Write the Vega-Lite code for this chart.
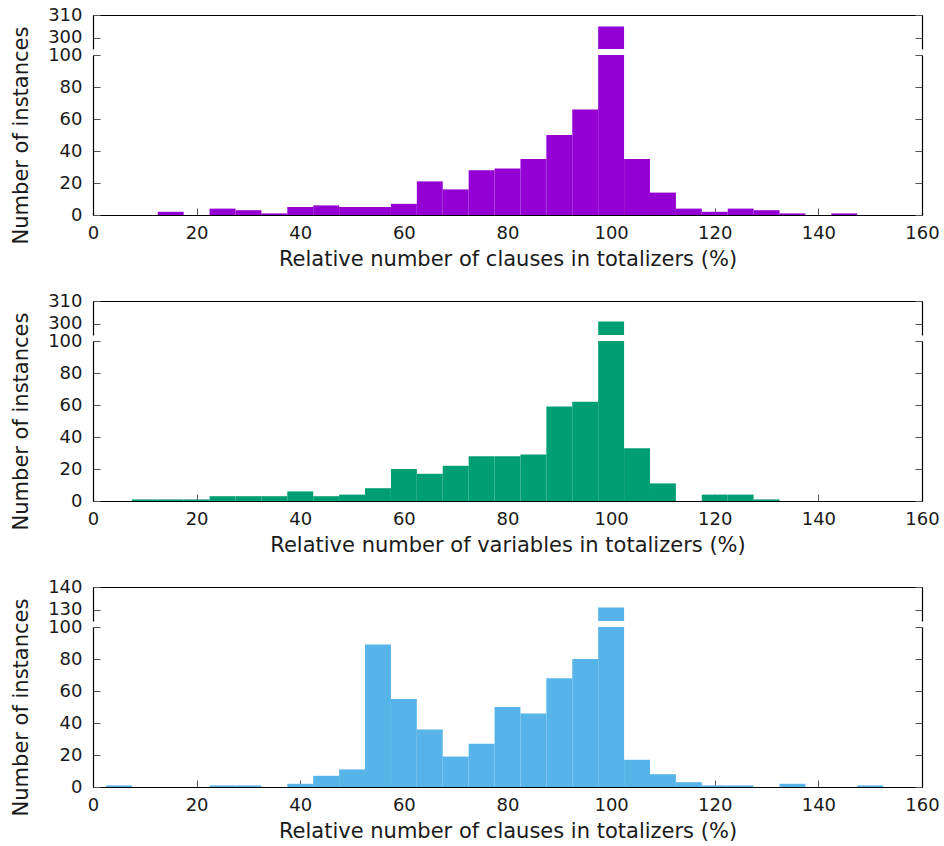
{
  "$schema": "https://vega.github.io/schema/vega-lite/v6.json",
  "padding": {"left": 10, "top": 6, "right": 5, "bottom": 5},
  "background": "white",
  "datasets": {
    "clauses_a": [
      {"from": 12.5, "to": 17.5, "count": 2},
      {"from": 22.5, "to": 27.5, "count": 4},
      {"from": 27.5, "to": 32.5, "count": 3},
      {"from": 32.5, "to": 37.5, "count": 1},
      {"from": 37.5, "to": 42.5, "count": 5},
      {"from": 42.5, "to": 47.5, "count": 6},
      {"from": 47.5, "to": 52.5, "count": 5},
      {"from": 52.5, "to": 57.5, "count": 5},
      {"from": 57.5, "to": 62.5, "count": 7},
      {"from": 62.5, "to": 67.5, "count": 21},
      {"from": 67.5, "to": 72.5, "count": 16},
      {"from": 72.5, "to": 77.5, "count": 28},
      {"from": 77.5, "to": 82.5, "count": 29},
      {"from": 82.5, "to": 87.5, "count": 35},
      {"from": 87.5, "to": 92.5, "count": 50},
      {"from": 92.5, "to": 97.5, "count": 66},
      {"from": 97.5, "to": 102.5, "count": 305},
      {"from": 102.5, "to": 107.5, "count": 35},
      {"from": 107.5, "to": 112.5, "count": 14},
      {"from": 112.5, "to": 117.5, "count": 4},
      {"from": 117.5, "to": 122.5, "count": 2},
      {"from": 122.5, "to": 127.5, "count": 4},
      {"from": 127.5, "to": 132.5, "count": 3},
      {"from": 132.5, "to": 137.5, "count": 1},
      {"from": 142.5, "to": 147.5, "count": 1}
    ],
    "variables": [
      {"from": 7.5, "to": 12.5, "count": 1},
      {"from": 12.5, "to": 17.5, "count": 1},
      {"from": 17.5, "to": 22.5, "count": 1},
      {"from": 22.5, "to": 27.5, "count": 3},
      {"from": 27.5, "to": 32.5, "count": 3},
      {"from": 32.5, "to": 37.5, "count": 3},
      {"from": 37.5, "to": 42.5, "count": 6},
      {"from": 42.5, "to": 47.5, "count": 3},
      {"from": 47.5, "to": 52.5, "count": 4},
      {"from": 52.5, "to": 57.5, "count": 8},
      {"from": 57.5, "to": 62.5, "count": 20},
      {"from": 62.5, "to": 67.5, "count": 17},
      {"from": 67.5, "to": 72.5, "count": 22},
      {"from": 72.5, "to": 77.5, "count": 28},
      {"from": 77.5, "to": 82.5, "count": 28},
      {"from": 82.5, "to": 87.5, "count": 29},
      {"from": 87.5, "to": 92.5, "count": 59},
      {"from": 92.5, "to": 97.5, "count": 62},
      {"from": 97.5, "to": 102.5, "count": 301},
      {"from": 102.5, "to": 107.5, "count": 33},
      {"from": 107.5, "to": 112.5, "count": 11},
      {"from": 117.5, "to": 122.5, "count": 4},
      {"from": 122.5, "to": 127.5, "count": 4},
      {"from": 127.5, "to": 132.5, "count": 1}
    ],
    "clauses_b": [
      {"from": 2.5, "to": 7.5, "count": 1},
      {"from": 22.5, "to": 27.5, "count": 1},
      {"from": 27.5, "to": 32.5, "count": 1},
      {"from": 37.5, "to": 42.5, "count": 2},
      {"from": 42.5, "to": 47.5, "count": 7},
      {"from": 47.5, "to": 52.5, "count": 11},
      {"from": 52.5, "to": 57.5, "count": 89},
      {"from": 57.5, "to": 62.5, "count": 55},
      {"from": 62.5, "to": 67.5, "count": 36},
      {"from": 67.5, "to": 72.5, "count": 19},
      {"from": 72.5, "to": 77.5, "count": 27},
      {"from": 77.5, "to": 82.5, "count": 50},
      {"from": 82.5, "to": 87.5, "count": 46},
      {"from": 87.5, "to": 92.5, "count": 68},
      {"from": 92.5, "to": 97.5, "count": 80},
      {"from": 97.5, "to": 102.5, "count": 131},
      {"from": 102.5, "to": 107.5, "count": 17},
      {"from": 107.5, "to": 112.5, "count": 8},
      {"from": 112.5, "to": 117.5, "count": 3},
      {"from": 117.5, "to": 122.5, "count": 1},
      {"from": 122.5, "to": 127.5, "count": 1},
      {"from": 132.5, "to": 137.5, "count": 2},
      {"from": 147.5, "to": 152.5, "count": 1}
    ]
  },
  "vconcat": [
    {
      "vconcat": [
        {
          "width": 829, "height": 34,
          "data": {"name": "clauses_a"},
          "layer": [
            {
              "mark": {"type": "bar", "color": "#9400d3", "clip": true},
              "encoding": {
                "x": {"field": "from", "type": "quantitative", "scale": {"domain": [0, 160], "nice": false}, "axis": {"orient": "top", "labels": false, "ticks": false, "title": null, "domain": true}},
                "x2": {"field": "to"},
                "y": {"field": "count", "type": "quantitative", "scale": {"domain": [295.1, 310], "nice": false, "zero": false}, "axis": {"orient": "left", "values": [300, 310], "title": null}},
                "y2": {"datum": 0}
              }
            },
            {
              "mark": {"type": "bar", "opacity": 0, "clip": true},
              "encoding": {
                "x": {"field": "from", "type": "quantitative", "axis": null},
                "x2": {"field": "to"},
                "y": {"field": "count", "type": "quantitative", "axis": {"orient": "right", "values": [300, 310], "labels": false, "title": null}},
                "y2": {"datum": 0}
              }
            }
          ],
          "resolve": {"axis": {"y": "independent", "x": "independent"}}
        },
        {
          "width": 829, "height": 160,
          "data": {"name": "clauses_a"},
          "layer": [
            {
              "mark": {"type": "bar", "color": "#9400d3", "clip": true},
              "encoding": {
                "x": {"field": "from", "type": "quantitative", "scale": {"domain": [0, 160], "nice": false}, "axis": {"orient": "bottom", "values": [0, 20, 40, 60, 80, 100, 120, 140, 160], "title": "Relative number of clauses in totalizers (%)"}},
                "x2": {"field": "to"},
                "y": {"field": "count", "type": "quantitative", "scale": {"domain": [0, 100], "nice": false}, "axis": {"orient": "left", "values": [0, 20, 40, 60, 80, 100], "title": "Number of instances"}},
                "y2": {"datum": 0}
              }
            },
            {
              "mark": {"type": "bar", "opacity": 0, "clip": true},
              "encoding": {
                "x": {"field": "from", "type": "quantitative", "axis": null},
                "x2": {"field": "to"},
                "y": {"field": "count", "type": "quantitative", "axis": {"orient": "right", "values": [0, 20, 40, 60, 80, 100], "labels": false, "title": null}},
                "y2": {"datum": 0}
              }
            }
          ],
          "resolve": {"axis": {"y": "independent", "x": "independent"}}
        }
      ],
      "spacing": 6,
      "bounds": "flush"
    },
    {
      "vconcat": [
        {
          "width": 829, "height": 34,
          "data": {"name": "variables"},
          "layer": [
            {
              "mark": {"type": "bar", "color": "#009e73", "clip": true},
              "encoding": {
                "x": {"field": "from", "type": "quantitative", "scale": {"domain": [0, 160], "nice": false}, "axis": {"orient": "top", "labels": false, "ticks": false, "title": null, "domain": true}},
                "x2": {"field": "to"},
                "y": {"field": "count", "type": "quantitative", "scale": {"domain": [295.1, 310], "nice": false, "zero": false}, "axis": {"orient": "left", "values": [300, 310], "title": null}},
                "y2": {"datum": 0}
              }
            },
            {
              "mark": {"type": "bar", "opacity": 0, "clip": true},
              "encoding": {
                "x": {"field": "from", "type": "quantitative", "axis": null},
                "x2": {"field": "to"},
                "y": {"field": "count", "type": "quantitative", "axis": {"orient": "right", "values": [300, 310], "labels": false, "title": null}},
                "y2": {"datum": 0}
              }
            }
          ],
          "resolve": {"axis": {"y": "independent", "x": "independent"}}
        },
        {
          "width": 829, "height": 160,
          "data": {"name": "variables"},
          "layer": [
            {
              "mark": {"type": "bar", "color": "#009e73", "clip": true},
              "encoding": {
                "x": {"field": "from", "type": "quantitative", "scale": {"domain": [0, 160], "nice": false}, "axis": {"orient": "bottom", "values": [0, 20, 40, 60, 80, 100, 120, 140, 160], "title": "Relative number of variables in totalizers (%)"}},
                "x2": {"field": "to"},
                "y": {"field": "count", "type": "quantitative", "scale": {"domain": [0, 100], "nice": false}, "axis": {"orient": "left", "values": [0, 20, 40, 60, 80, 100], "title": "Number of instances"}},
                "y2": {"datum": 0}
              }
            },
            {
              "mark": {"type": "bar", "opacity": 0, "clip": true},
              "encoding": {
                "x": {"field": "from", "type": "quantitative", "axis": null},
                "x2": {"field": "to"},
                "y": {"field": "count", "type": "quantitative", "axis": {"orient": "right", "values": [0, 20, 40, 60, 80, 100], "labels": false, "title": null}},
                "y2": {"datum": 0}
              }
            }
          ],
          "resolve": {"axis": {"y": "independent", "x": "independent"}}
        }
      ],
      "spacing": 6,
      "bounds": "flush"
    },
    {
      "vconcat": [
        {
          "width": 829, "height": 34,
          "data": {"name": "clauses_b"},
          "layer": [
            {
              "mark": {"type": "bar", "color": "#56b4e9", "clip": true},
              "encoding": {
                "x": {"field": "from", "type": "quantitative", "scale": {"domain": [0, 160], "nice": false}, "axis": {"orient": "top", "labels": false, "ticks": false, "title": null, "domain": true}},
                "x2": {"field": "to"},
                "y": {"field": "count", "type": "quantitative", "scale": {"domain": [125.1, 140], "nice": false, "zero": false}, "axis": {"orient": "left", "values": [130, 140], "title": null}},
                "y2": {"datum": 0}
              }
            },
            {
              "mark": {"type": "bar", "opacity": 0, "clip": true},
              "encoding": {
                "x": {"field": "from", "type": "quantitative", "axis": null},
                "x2": {"field": "to"},
                "y": {"field": "count", "type": "quantitative", "axis": {"orient": "right", "values": [130, 140], "labels": false, "title": null}},
                "y2": {"datum": 0}
              }
            }
          ],
          "resolve": {"axis": {"y": "independent", "x": "independent"}}
        },
        {
          "width": 829, "height": 160,
          "data": {"name": "clauses_b"},
          "layer": [
            {
              "mark": {"type": "bar", "color": "#56b4e9", "clip": true},
              "encoding": {
                "x": {"field": "from", "type": "quantitative", "scale": {"domain": [0, 160], "nice": false}, "axis": {"orient": "bottom", "values": [0, 20, 40, 60, 80, 100, 120, 140, 160], "title": "Relative number of clauses in totalizers (%)"}},
                "x2": {"field": "to"},
                "y": {"field": "count", "type": "quantitative", "scale": {"domain": [0, 100], "nice": false}, "axis": {"orient": "left", "values": [0, 20, 40, 60, 80, 100], "title": "Number of instances"}},
                "y2": {"datum": 0}
              }
            },
            {
              "mark": {"type": "bar", "opacity": 0, "clip": true},
              "encoding": {
                "x": {"field": "from", "type": "quantitative", "axis": null},
                "x2": {"field": "to"},
                "y": {"field": "count", "type": "quantitative", "axis": {"orient": "right", "values": [0, 20, 40, 60, 80, 100], "labels": false, "title": null}},
                "y2": {"datum": 0}
              }
            }
          ],
          "resolve": {"axis": {"y": "independent", "x": "independent"}}
        }
      ],
      "spacing": 6,
      "bounds": "flush"
    }
  ],
  "spacing": 23,
  "config": {
    "view": {"stroke": null},
    "axis": {
      "grid": false,
      "labelFont": "DejaVu Sans", "labelFontSize": 18, "labelColor": "#1a1a1a",
      "titleFont": "DejaVu Sans", "titleFontSize": 21, "titleFontWeight": "normal", "titleColor": "#1a1a1a",
      "domainColor": "#000000", "domainWidth": 1.2,
      "tickColor": "#555555", "tickSize": -7, "tickWidth": 1,
      "labelFlush": false, "labelOverlap": false, "labelBound": false
    },
    "axisLeft": {"labelPadding": 18, "titlePadding": 16},
    "axisRight": {"labelPadding": 18},
    "axisBottom": {"labelPadding": 16, "titlePadding": 6}
  }
}
